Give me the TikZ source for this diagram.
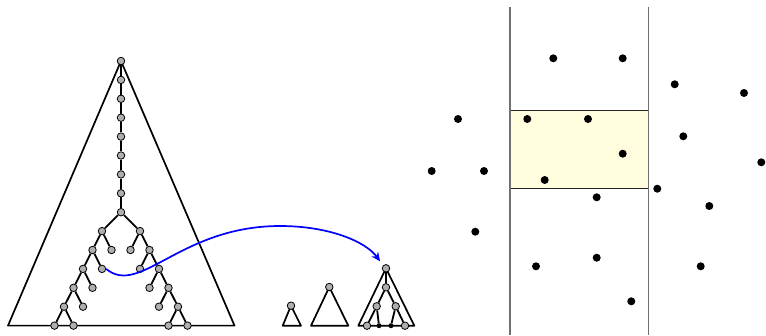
\documentclass[tikz,border=0pt]{standalone}
\usetikzlibrary{arrows.meta,backgrounds}
\definecolor{nodegray}{RGB}{175,175,175}
\definecolor{boxyellow}{RGB}{255,253,222}
\definecolor{linegray}{RGB}{112,112,112}
\tikzset{
  tn/.style={circle,draw=black,fill=nodegray,inner sep=0pt,minimum size=7.5pt,line width=0.8pt},
  bd/.style={circle,fill=black,inner sep=0pt,minimum size=5pt},
  pt/.style={circle,fill=black,inner sep=0pt,minimum size=8pt},
  edge/.style={line width=1.8pt,black},
  tri/.style={line width=1.7pt,black,line join=round},
}
\begin{document}
\begin{tikzpicture}[x=1pt,y=-1pt]
\useasboundingbox (0,0) rectangle (766,335);
% ---- big tree: chain
\foreach \k in {0,...,8} {
  \node[tn] (c\k) at (121,{61+18.9*\k}) {};
}
% binary part
\node[tn] (L1) at (102,231.1) {};
\node[tn] (L2a) at (92.5,250) {};
\node[tn] (L2b) at (111.5,250) {};
\node[tn] (L3a) at (83,268.9) {};
\node[tn] (L3b) at (102,268.9) {};
\node[tn] (L4a) at (73.5,287.8) {};
\node[tn] (L4b) at (92.5,287.8) {};
\node[tn] (L5a) at (64,306.7) {};
\node[tn] (L5b) at (83,306.7) {};
\node[tn] (L6a) at (54.5,325.6) {};
\node[tn] (L6b) at (73.5,325.6) {};
\node[tn] (R1) at (140,231.1) {};
\node[tn] (R2a) at (130.5,250) {};
\node[tn] (R2b) at (149.5,250) {};
\node[tn] (R3a) at (140,268.9) {};
\node[tn] (R3b) at (159,268.9) {};
\node[tn] (R4a) at (149.5,287.8) {};
\node[tn] (R4b) at (168.5,287.8) {};
\node[tn] (R5a) at (159,306.7) {};
\node[tn] (R5b) at (178,306.7) {};
\node[tn] (R6a) at (168.5,325.6) {};
\node[tn] (R6b) at (187.5,325.6) {};
\coordinate (bigL) at (8,325.6);
\coordinate (bigR) at (234.5,325.6);
% ---- small trees
\node[tn] (s1) at (291,305.7) {};
\coordinate (s1L) at (282.7,325.7);
\coordinate (s1R) at (301,325.7);
\node[tn] (s2) at (329.3,287) {};
\coordinate (s2L) at (311,325.7);
\coordinate (s2R) at (348.3,325.7);
\node[tn] (r0) at (386,268.3) {};
\node[tn] (r1) at (386,287.3) {};
\node[tn] (r2a) at (376.7,306.3) {};
\node[tn] (r2b) at (395.7,306.3) {};
\node[tn] (r3a) at (367,325.7) {};
\node[bd] (r3b) at (379,325.7) {};
\node[bd] (r3c) at (391,325.7) {};
\node[tn] (r3d) at (405,325.7) {};
\coordinate (s3L) at (358.3,325.7);
\coordinate (s3R) at (414.3,325.7);
\begin{pgfonlayer}{background}
  \draw[tri] (c0.center) -- (bigL) -- (bigR) -- cycle;
  \draw[edge] (c0) -- (c1) -- (c2) -- (c3) -- (c4) -- (c5) -- (c6) -- (c7) -- (c8);
  \draw[edge] (c8) -- (L1); \draw[edge] (c8) -- (R1);
  \draw[edge] (L1) -- (L2a); \draw[edge] (L1) -- (L2b);
  \draw[edge] (L2a) -- (L3a); \draw[edge] (L2a) -- (L3b);
  \draw[edge] (L3a) -- (L4a); \draw[edge] (L3a) -- (L4b);
  \draw[edge] (L4a) -- (L5a); \draw[edge] (L4a) -- (L5b);
  \draw[edge] (L5a) -- (L6a); \draw[edge] (L5a) -- (L6b);
  \draw[edge] (R1) -- (R2a); \draw[edge] (R1) -- (R2b);
  \draw[edge] (R2b) -- (R3a); \draw[edge] (R2b) -- (R3b);
  \draw[edge] (R3b) -- (R4a); \draw[edge] (R3b) -- (R4b);
  \draw[edge] (R4b) -- (R5a); \draw[edge] (R4b) -- (R5b);
  \draw[edge] (R5b) -- (R6a); \draw[edge] (R5b) -- (R6b);
  \draw[tri] (s1.center) -- (s1L) -- (s1R) -- cycle;
  \draw[tri] (s2.center) -- (s2L) -- (s2R) -- cycle;
  \draw[tri] (r0.center) -- (s3L) -- (s3R) -- cycle;
  \draw[edge] (r0) -- (r1);
  \draw[edge] (r1) -- (r2a); \draw[edge] (r1) -- (r2b);
  \draw[edge] (r2a) -- (r3a); \draw[edge] (r2a) -- (r3b);
  \draw[edge] (r2b) -- (r3c); \draw[edge] (r2b) -- (r3d);
\end{pgfonlayer}
% ---- blue arrow
\coordinate (arrmid) at (280,226);
\draw[blue,line width=1.7pt,-{Stealth[length=9pt,width=8pt]},shorten >=5pt]
  (L3b.east) .. controls (140,297) and (180,226) .. (arrmid)
  .. controls (330,226) and (366,242) .. (r0.north west);
% ---- right panel
\coordinate (v1t) at (510,7);
\coordinate (v1b) at (510,335);
\coordinate (v2t) at (648.7,7);
\coordinate (v2b) at (648.7,335);
\draw[fill=boxyellow,draw=black!85,line width=1pt] (510,110.3) rectangle (648.7,188.7);
\draw[linegray,line width=1.3pt] (v1t) -- (v1b);
\draw[linegray,line width=1.3pt] (v2t) -- (v2b);
\foreach \x/\y [count=\i] in {553.3/58.3, 622.7/58.3, 674.7/84.3, 744/93, 458/119,
  527.3/119, 588/119, 683.3/136.3, 622.7/153.7, 761.3/162.3, 431.7/171, 484/171,
  544.7/180, 657.3/188.7, 596.7/197.3, 709.3/206, 475.3/231.7, 596.7/257.7,
  536/266.3, 700.7/266.3, 631.3/301.3} {
  \node[pt] (p\i) at (\x,\y) {};
}
\end{tikzpicture}
\end{document}
